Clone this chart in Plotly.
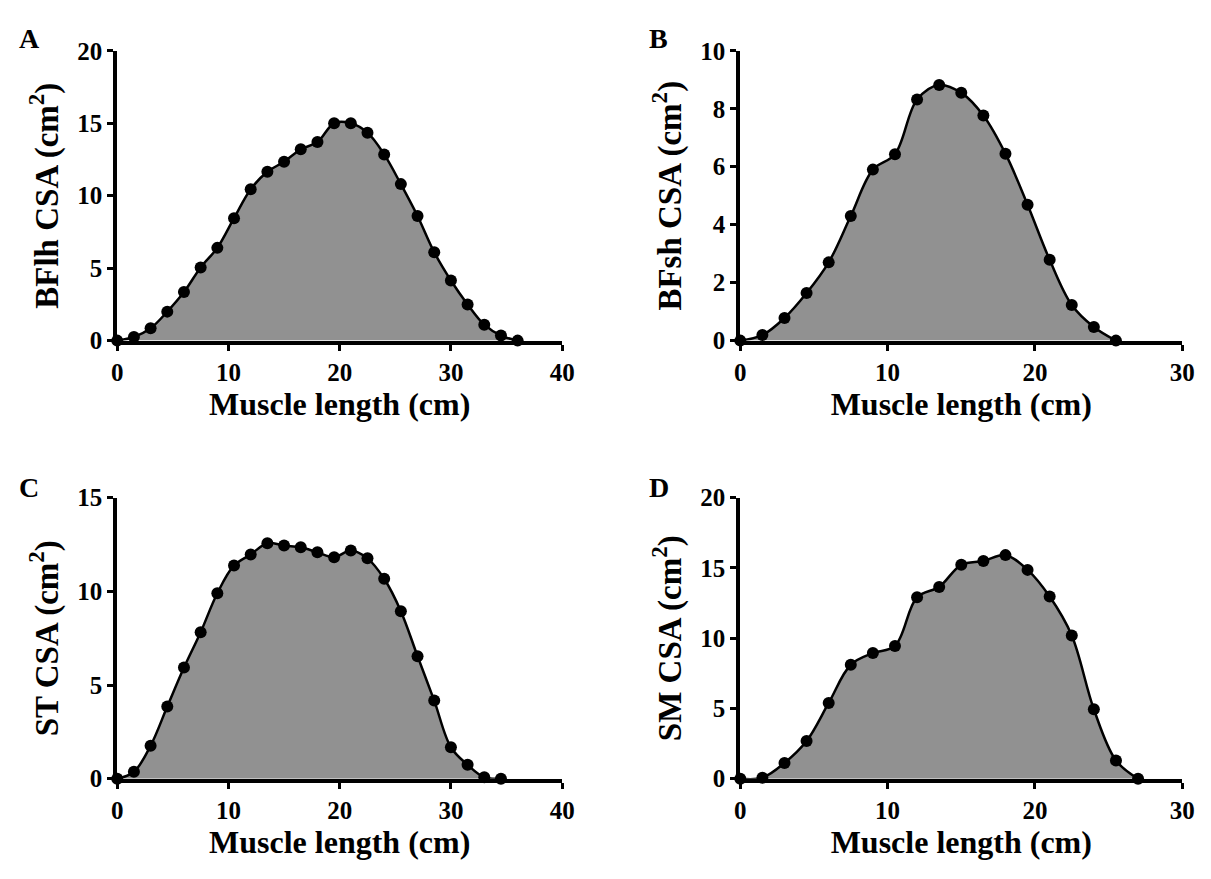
import plotly.graph_objects as go

# ---- data ----
x_A = [i * 1.5 for i in range(25)]
y_A = [0, 0.25, 0.85, 2.0, 3.35, 5.05, 6.4, 8.45, 10.45, 11.65, 12.35, 13.2, 13.7,
       15.0, 15.0, 14.35, 12.85, 10.8, 8.6, 6.1, 4.15, 2.5, 1.1, 0.35, 0.0]

x_B = [i * 1.5 for i in range(18)]
y_B = [0, 0.19, 0.78, 1.64, 2.7, 4.3, 5.9, 6.43, 8.32, 8.82, 8.55, 7.77, 6.45,
       4.69, 2.79, 1.23, 0.47, 0.0]

x_C = [i * 1.5 for i in range(24)]
y_C = [0, 0.37, 1.76, 3.85, 5.93, 7.82, 9.9, 11.38, 11.97, 12.57, 12.44, 12.35,
       12.08, 11.82, 12.18, 11.76, 10.67, 8.94, 6.54, 4.17, 1.68, 0.74, 0.08, 0.0]

x_D = [i * 1.5 for i in range(19)]
y_D = [0, 0.07, 1.12, 2.68, 5.39, 8.11, 8.94, 9.45, 12.92, 13.65, 15.22, 15.49,
       15.91, 14.86, 12.96, 10.19, 4.94, 1.3, 0.0]

panel_letters = ["A", "B", "C", "D"]
y_titles = ["BFlh CSA (cm<sup>2</sup>)", "BFsh CSA (cm<sup>2</sup>)",
            "ST CSA (cm<sup>2</sup>)", "SM CSA (cm<sup>2</sup>)"]
x_title = "Muscle length (cm)"
x_tickvals = [[0, 10, 20, 30, 40], [0, 10, 20, 30], [0, 10, 20, 30, 40], [0, 10, 20, 30]]
y_tickvals = [[0, 5, 10, 15, 20], [0, 2, 4, 6, 8, 10], [0, 5, 10, 15], [0, 5, 10, 15, 20]]

W, H = 1211, 879
# panel plot-area pixel boxes (left, right, top, bottom)
boxes = [(113, 565, 39, 338), (746, 1195, 39, 338),
         (113, 565, 500, 790), (746, 1195, 500, 790)]

FONT = "Liberation Serif"
fig = go.Figure()

data = [(x_A, y_A), (x_B, y_B), (x_C, y_C), (x_D, y_D)]
for i, (xs, ys) in enumerate(data):
    n = "" if i == 0 else str(i + 1)
    xa, ya = "x" + n, "y" + n
    fig.add_trace(go.Scatter(
        x=xs, y=ys, mode="lines+markers", xaxis=xa, yaxis=ya,
        line=dict(color="black", width=2.5, shape="spline", smoothing=1.0),
        fill="tozeroy", fillcolor="#919191",
        marker=dict(color="black", size=12),
        cliponaxis=False, showlegend=False, hoverinfo="skip"))
    l, r, t, b = boxes[i]
    axis_common = dict(showline=True, linecolor="black", linewidth=4,
                       ticks="outside", ticklen=6, tickwidth=3, tickcolor="black",
                       showgrid=False, zeroline=False,
                       tickfont=dict(family=FONT, size=25, color="black"))
    xt, yt = x_tickvals[i], y_tickvals[i]
    fig.update_layout(**{
        ("xaxis" + n): dict(domain=[l / W, r / W], anchor=ya, range=[0, xt[-1]],
                            tickmode="array", tickvals=xt,
                            ticktext=["<b>%d</b>" % v for v in xt],
                            title=dict(text="<b>" + x_title + "</b>", standoff=8,
                                       font=dict(family=FONT, size=32, color="black")),
                            **axis_common),
        ("yaxis" + n): dict(domain=[1 - b / H, 1 - t / H], anchor=xa, range=[0, yt[-1]],
                            tickmode="array", tickvals=yt,
                            ticktext=["<b>%d</b>" % v for v in yt],
                            title=dict(text="<b>" + y_titles[i] + "</b>", standoff=10,
                                       font=dict(family=FONT, size=33, color="black")),
                            **axis_common),
    })

letter_pos = [(11, 26), (651, 26), (11, 490), (651, 490)]
for (px, py), letter in zip(letter_pos, panel_letters):
    fig.add_annotation(x=px / W, y=1 - py / H, xref="paper", yref="paper",
                       text="<b>" + letter + "</b>", showarrow=False,
                       xanchor="left", yanchor="middle",
                       font=dict(family=FONT, size=28, color="black"))

fig.update_layout(width=W, height=H, margin=dict(l=0, r=0, t=0, b=0),
                  paper_bgcolor="white", plot_bgcolor="white")
fig.write_html("out.html")
